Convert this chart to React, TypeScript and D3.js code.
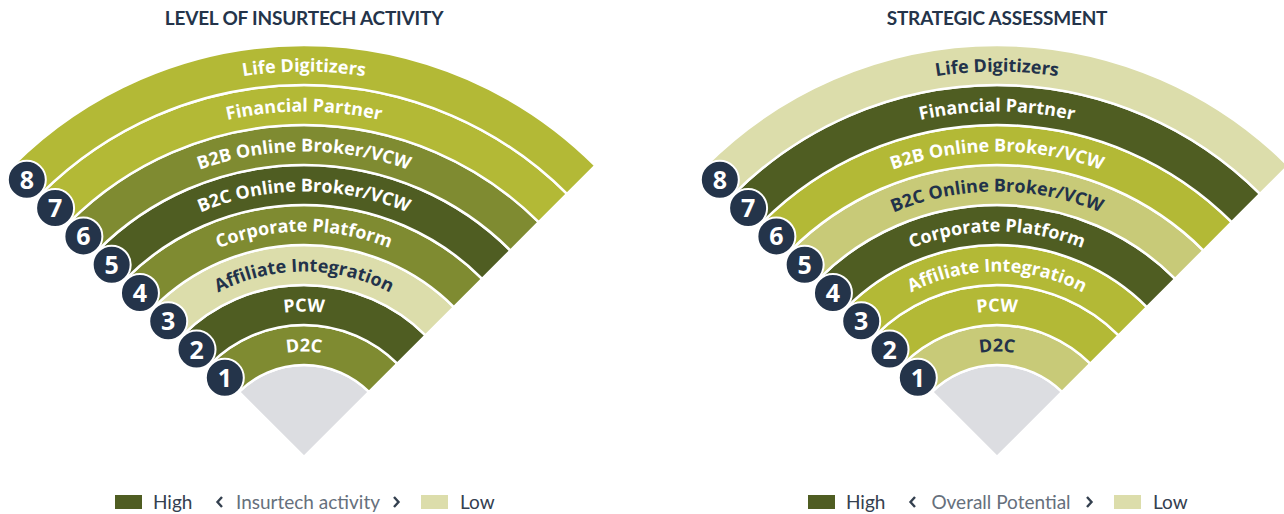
import * as d3 from 'd3';

// Ring categories, innermost first
const CATEGORIES = [
  "D2C",
  "PCW",
  "Affiliate Integration",
  "Corporate Platform",
  "B2C Online Broker/VCW",
  "B2B Online Broker/VCW",
  "Financial Partner",
  "Life Digitizers",
];

// 5 = high ... 1 = low
const ACTIVITY_LEVELS = [4, 5, 1, 4, 5, 4, 3, 3];
const POTENTIAL_LEVELS = [2, 3, 3, 5, 2, 3, 5, 1];

const LEVEL_DOMAIN = [1, 2, 3, 4, 5];
const LEVEL_COLORS = ["#dcddab", "#c8ca78", "#b3b936", "#7f8b31", "#4f5d22"];
const LEVEL_TEXT = ["#22324a", "#22324a", "#ffffff", "#ffffff", "#ffffff"];

const width = 1284;
const height = 514;
const innerRadius = 92;
const outerRadius = 412;
const navy = "#24344a";

const color = d3.scaleOrdinal<number, string>().domain(LEVEL_DOMAIN).range(LEVEL_COLORS);
const textColor = d3.scaleOrdinal<number, string>().domain(LEVEL_DOMAIN).range(LEVEL_TEXT);
const r = d3.scaleLinear().domain([0, CATEGORIES.length]).range([innerRadius, outerRadius]);

const arc = d3.arc<any>()
  .startAngle(-Math.PI / 4)
  .endAngle(Math.PI / 4);

// arc from the left edge to the right edge, so text reads left to right
const labelPath = (rad: number) => {
  const s = Math.SQRT1_2 * rad;
  return `M${-s},${-s}A${rad},${rad} 0 0 1 ${s},${-s}`;
};

const Fan = ({ id, cx, cy, title, levels, legendLabel }) => {
  return (
    <g transform={`translate(${cx},${cy})`}>
      <text
        x={0}
        y={25 - cy}
        textAnchor="middle"
        fontFamily="Lato"
        fontWeight={700}
        fontSize={19}
        letterSpacing={-0.2}
        fill={navy}
      >
        {title}
      </text>

      {/* grey core */}
      <path
        d={arc({ innerRadius: 0, outerRadius: innerRadius })}
        fill="#dcdde1"
        stroke="#fff"
        strokeWidth={2.5}
      />

      {CATEGORIES.map((c, i) => (
        <path
          key={c}
          d={arc({ innerRadius: r(i), outerRadius: r(i + 1) })}
          fill={color(levels[i])}
          stroke="#fff"
          strokeWidth={2.5}
        />
      ))}

      <defs>
        {CATEGORIES.map((c, i) => (
          <path key={c} id={`${id}-lp-${i}`} d={labelPath((r(i) + r(i + 1)) / 2 - 6.5)} />
        ))}
      </defs>

      {CATEGORIES.map((c, i) => (
        <text
          key={c}
          fontFamily="'Open Sans'"
          fontWeight={700}
          fontSize={18}
          fill={textColor(levels[i])}
        >
          <textPath href={`#${id}-lp-${i}`} startOffset="50%" textAnchor="middle">
            {c}
          </textPath>
        </text>
      ))}

      {/* numbered badges on the left edge, 8 drawn first */}
      {d3.range(CATEGORIES.length - 1, -1, -1).map((i) => {
        const rm = (r(i) + r(i + 1)) / 2;
        const s = Math.SQRT1_2 * rm;
        return (
          <g key={i} transform={`translate(${-s},${-s})`}>
            <circle r={19} fill={navy} stroke="#fff" strokeWidth={2} />
            <text
              y={9}
              textAnchor="middle"
              fontFamily="'Open Sans'"
              fontWeight={700}
              fontSize={25}
              fill="#fff"
            >
              {i + 1}
            </text>
          </g>
        );
      })}

      {/* legend */}
      <g transform={`translate(0,${509 - cy})`} fontFamily="Lato" fontSize={19}>
        <rect x={-189} y={-14} width={27} height={14} fill={color(5)} />
        <text x={-151} fill="#34404f">High</text>
        <path d="M-82,-12L-86.5,-7L-82,-2" fill="none" stroke="#34404f" strokeWidth={2.4} />
        <text x={4} textAnchor="middle" fill="#66707c">{legendLabel}</text>
        <path d="M90,-12L94.5,-7L90,-2" fill="none" stroke="#34404f" strokeWidth={2.4} />
        <rect x={117} y={-14} width={27} height={14} fill={color(1)} />
        <text x={156} fill="#34404f">Low</text>
      </g>
    </g>
  );
};

export default function App() {
  return (
    <svg
      width={width}
      height={height}
      viewBox={`0 0 ${width} ${height}`}
      style={{ position: 'absolute', left: 0, top: 0, display: 'block', background: '#fff' }}
    >
      <Fan
        id="act"
        cx={304}
        cy={457}
        title="LEVEL OF INSURTECH ACTIVITY"
        levels={ACTIVITY_LEVELS}
        legendLabel="Insurtech activity"
      />
      <Fan
        id="pot"
        cx={997}
        cy={457}
        title="STRATEGIC ASSESSMENT"
        levels={POTENTIAL_LEVELS}
        legendLabel="Overall Potential"
      />
    </svg>
  );
}
